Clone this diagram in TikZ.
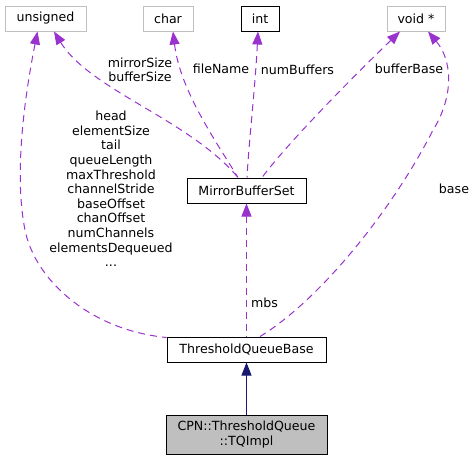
\documentclass[tikz,border=0pt]{standalone}
\usepackage{fontspec}
\setmainfont{DejaVu Sans}
\usetikzlibrary{arrows.meta}
\definecolor{dep}{HTML}{9A32CD}
\definecolor{lgray}{HTML}{BFBFBF}
\definecolor{navy}{HTML}{191970}
\begin{document}
\begin{tikzpicture}[x=1pt,y=-1pt,
  every node/.style={font=\fontsize{12.6}{14.6}\selectfont, inner sep=0pt},
  typebox/.style={draw=lgray, line width=1pt, minimum height=25pt, fill=white},
  classbox/.style={draw=black, line width=1pt, minimum height=25pt, fill=white},
  deparrow/.style={draw=dep, line width=1pt, dash pattern=on 7pt off 5pt, {Triangle[length=13pt,width=10pt,fill=dep,sep=0pt]}-},
  inharrow/.style={draw=navy, line width=1pt, {Triangle[length=13pt,width=10pt,fill=navy]}-},
  lbl/.style={align=center}]
\useasboundingbox (0,0) rectangle (476,461);
% type nodes
\node[typebox, minimum width=81pt] (u) at (45.5,18.5) {unsigned};
\node[typebox, minimum width=50pt] (c) at (168,18.5) {char};
\node[classbox, minimum width=38pt] (i) at (260,18.5) {int};
\node[typebox, minimum width=58pt] (v) at (416,18.5) {void *};
% classes
\node[classbox, minimum width=119pt] (mbs) at (246.5,190.5) {MirrorBufferSet};
\node[classbox, minimum width=159pt] (tqb) at (246.5,349.5) {ThresholdQueueBase};
\node[classbox, fill=lgray, minimum width=161pt, minimum height=39pt, align=center] (tqi) at (246.5,434.5) {CPN::ThresholdQueue\\::TQImpl};
% connectors
\draw[deparrow] ([xshift=-8pt]u.south) .. controls (22,110) and (15,180) .. (25,230)
   .. controls (35,280) and (90,330) .. ([yshift=-1pt]tqb.north west);
\draw[deparrow] ([xshift=8.5pt]u.south) .. controls (90,90) and (190,120) .. ([xshift=-8.5pt]mbs.north);
\draw[deparrow] ([xshift=5pt]c.south) .. controls (180,90) and (215,140) .. ([xshift=-8.5pt]mbs.north);
\draw[deparrow] ([xshift=-2pt]i.south) .. controls (255,90) and (249,140) .. ([xshift=0.5pt]mbs.north);
\draw[deparrow] ([xshift=-16pt]v.south) .. controls (360,70) and (290,140) .. ([xshift=15.5pt]mbs.north);
\draw[deparrow] ([xshift=12pt]v.south) .. controls (452,60) and (455,95) .. (432,132)
   .. controls (392,210) and (320,300) .. ([xshift=13.5pt]tqb.north);
\draw[deparrow] (mbs.south) -- (tqb.north);
\draw[inharrow] (tqb.south) -- (tqi.north);
% labels
\node[lbl] (l1) at (140,69.7) {mirrorSize\\bufferSize};
\node[lbl] (l2) at (221,69) {fileName};
\node[lbl] (l3) at (297.5,70) {numBuffers};
\node[lbl] (l4) at (409,69) {bufferBase};
\node[lbl] (l5) at (454,189) {base};
\node[lbl] (l6) at (264.5,303) {mbs};
\node[lbl] (l7) at (111,189) {head\\elementSize\\tail\\queueLength\\maxThreshold\\channelStride\\baseOffset\\chanOffset\\numChannels\\elementsDequeued\\...};
\end{tikzpicture}
\end{document}
